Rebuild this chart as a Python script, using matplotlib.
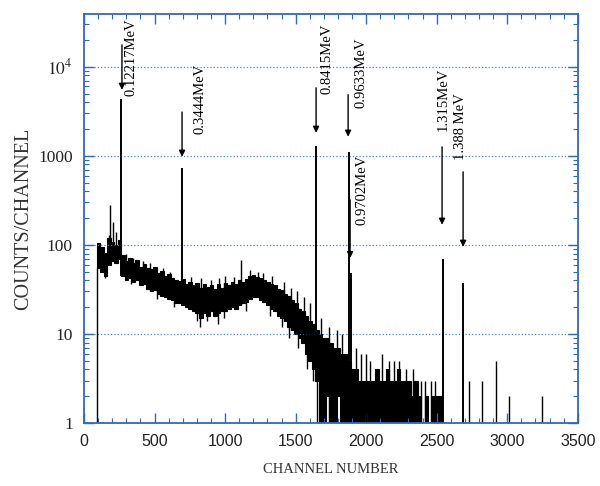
import numpy as np
import matplotlib
matplotlib.use('Agg')
import matplotlib.pyplot as plt
from matplotlib.ticker import FixedLocator, FixedFormatter, LogLocator, MultipleLocator

plt.rcParams['mathtext.fontset'] = 'stix'

# continuum band, 25-channel bins starting at channel 90: upper / lower counts
bin_start = 90
bin_width = 25
band_hi = [
    105, 95, 82, 118, 108, 100, 114, 76, 66, 71,
    62, 67, 57, 61, 55, 53, 56, 48, 51, 45,
    47, 42, 40, 39, 41, 36, 38, 35, 37, 33,
    36, 34, 35, 32, 36, 33, 37, 35, 38, 36,
    40, 38, 41, 45, 46, 44, 42, 40, 38, 36,
    35, 32, 31, 28, 27, 24, 22, 19, 18, 16,
    14, 13, 11, 10, 9, 9, 8, 7, 7, 6,
    6, 5, 4, 4, 3, 3, 3, 3, 3, 4,
    3, 3, 4, 3, 3, 4, 3, 3, 3, 2,
    3, 2, 1, 2, 1, 2, 2, 2, 1,
]
band_lo = [
    55, 50, 45, 60, 66, 62, 70, 45, 40, 42,
    38, 40, 35, 36, 32, 30, 31, 28, 27, 26,
    25, 24, 22, 22, 21, 20, 19, 18, 17, 15,
    17, 16, 18, 16, 17, 18, 18, 19, 20, 19,
    21, 22, 23, 25, 26, 26, 24, 23, 21, 19,
    18, 16, 15, 14, 12, 11, 10, 9, 8, 6,
    5, 4, 3, 1, 1, 2, 1, 1, 2, 1,
    1, 1, 1, 1, 1, 1, 1, 1, 1, 1,
    1, 1, 1, 1, 1, 1, 1, 1, 1, 1,
    1, 1, 1, 1, 1, 1, 1, 1, 1,
]

# single-channel upward spikes (channel, counts)
spike_ch = [175, 185, 205, 230, 300, 350, 420, 470, 560, 610, 760, 830, 900,
            960, 1000, 1060, 1113, 1180, 1230, 1270, 1330, 1420, 1470, 1510,
            1560, 1600, 1680, 1740, 1790, 1830, 1930, 1960, 2000, 2030, 2110,
            2160, 2200, 2230, 2280, 2330, 2390, 2420, 2460, 2490, 2730, 2822,
            2921, 3013, 3247]
spike_top = [130, 280, 180, 140, 80, 72, 66, 62, 55, 50, 44, 42, 40,
             42, 45, 44, 68, 52, 50, 48, 45, 38, 33, 30,
             26, 22, 15, 12, 11, 10, 7, 6, 6, 5, 6,
             5, 5, 5, 4, 4, 3, 3, 3, 3, 3, 3,
             5, 2, 2]

# downward dips (channel, counts)
dip_ch = [150, 330, 520, 640, 800, 820, 870, 950, 990, 1150, 1320, 1400,
          1450, 1520, 1580, 1620, 1650]
dip_low = [42, 36, 25, 20, 14, 12, 14, 13, 15, 18, 16, 12, 9, 7, 4, 3, 1]

# photopeaks
peak_ch = [265, 695, 1645, 1879, 1893, 2545, 2687]
peak_top = [4300, 730, 1290, 1110, 48, 70, 37]

# spectrum start edge
start_ch = 92

# annotations: arrow channel, tail, head, label channel, label counts
labels = ['0.12217MeV', '0.3444MeV', '0.8415MeV', '0.9633MeV', '0.9702MeV',
          '1.315MeV', '1.388 MeV']
arrow_ch = [269, 695, 1645, 1872, 1886, 2538, 2687]
arrow_tail = [17600, 3100, 5800, 4850, 320, 1260, 660]
arrow_head = [5500, 975, 1810, 1635, 71, 168, 95]
label_ch = [333, 822, 1723, 1964, 1971, 2545, 2666]
label_y = [12800, 4400, 12300, 8600, 415, 4350, 2120]

blue = '#2f66cc'

fig = plt.figure(figsize=(6, 4.86), dpi=100)
ax = fig.add_axes([0.14, 0.1296, 0.823, 0.8414])

edges = bin_start + bin_width * np.arange(len(band_hi) + 1)
ax.stairs(band_hi, edges, baseline=band_lo, fill=True, color='k', lw=0)
ax.stairs(band_hi, edges, baseline=band_lo, fill=False, color='k', lw=0.8)

nb = len(band_hi)


def bin_of(ch):
    return int((ch - bin_start) // bin_width)


for ch, top in zip(spike_ch, spike_top):
    i = bin_of(ch)
    base = band_lo[i] if 0 <= i < nb else 1
    ax.vlines(ch, base, top, color='k', lw=1.0)

for ch, low in zip(dip_ch, dip_low):
    i = bin_of(ch)
    ax.vlines(ch, low, band_hi[i], color='k', lw=1.0)

for ch, top in zip(peak_ch, peak_top):
    i = bin_of(ch)
    base = band_lo[i] if 0 <= i < nb else 1
    ax.vlines(ch, base, top, color='k', lw=1.4)

ax.vlines(start_ch, 1, band_lo[0], color='k', lw=1.0)

for txt, ac, at, ah, lc, ly in zip(labels, arrow_ch, arrow_tail, arrow_head,
                                   label_ch, label_y):
    ax.annotate('', xy=(ac, ah), xytext=(ac, at),
                arrowprops=dict(arrowstyle='-|>', color='k', lw=1.0,
                                mutation_scale=9, shrinkA=0, shrinkB=0))
    ax.text(lc, ly, txt, rotation=90, ha='center', va='center',
            fontsize=10.5, family='Liberation Serif')

ax.set_yscale('log')
ax.set_xlim(0, 3500)
ax.set_ylim(1, 3.9e4)

ax.yaxis.set_major_locator(FixedLocator([1, 10, 100, 1000, 10000]))
ax.yaxis.set_major_formatter(FixedFormatter(['1', '10', '100', '1000', r'$10^4$']))
ax.yaxis.set_minor_locator(LogLocator(base=10, subs=np.arange(2, 10)))
ax.yaxis.set_minor_formatter(FixedFormatter([]))
ax.xaxis.set_major_locator(MultipleLocator(500))
ax.xaxis.set_minor_locator(MultipleLocator(100))

ax.grid(axis='y', which='major', color='#4f86d8', linestyle=':', lw=0.9)

for sp in ax.spines.values():
    sp.set_color(blue)
    sp.set_linewidth(1.3)

ax.tick_params(which='both', direction='in', colors=blue, labelcolor='#222222',
               top=True, right=True)
ax.tick_params(which='major', length=7, width=1.0)
ax.tick_params(which='minor', length=3.5, width=0.8)
ax.tick_params(axis='x', pad=8)
ax.tick_params(axis='y', pad=8)

for lab in ax.get_xticklabels():
    lab.set_family('Liberation Sans')
    lab.set_fontsize(11.5)
for lab in ax.get_yticklabels():
    lab.set_family('Liberation Serif')
    lab.set_fontsize(12.5)

ax.set_xlabel('CHANNEL NUMBER', family='Liberation Serif', fontsize=10.5,
              color='#333333', labelpad=10)
ax.set_ylabel('COUNTS/CHANNEL', family='Liberation Serif', fontsize=14.5,
              color='#333333', labelpad=4)

fig.savefig('out.png', dpi=100)
